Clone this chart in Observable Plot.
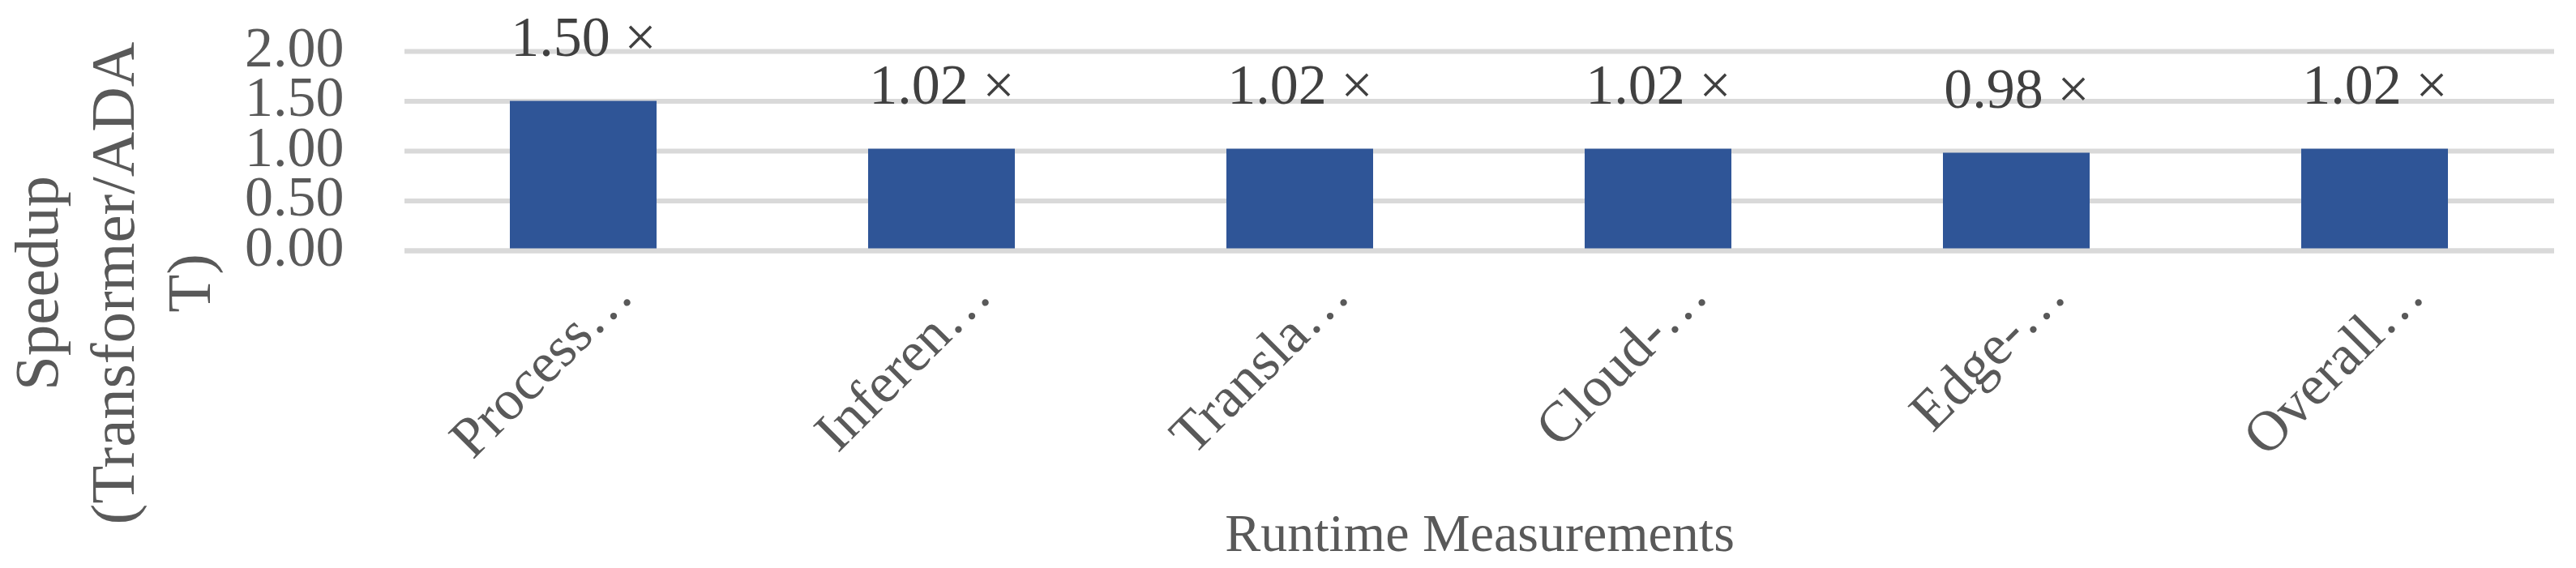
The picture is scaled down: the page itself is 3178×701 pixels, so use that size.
<!DOCTYPE html>
<html><head><meta charset="utf-8">
<script src="https://cdn.jsdelivr.net/npm/d3@7"></script>
<script src="https://cdn.jsdelivr.net/npm/@observablehq/plot@0.6"></script>
<style>html,body{margin:0;padding:0;background:#fff}</style>
</head><body><div id="chart"></div>
<script>
const categories = ["Process…", "Inferen…", "Transla…", "Cloud-…", "Edge-…", "Overall…"];
const speedups = [1.50, 1.02, 1.02, 1.02, 0.98, 1.02];
const yTicks = [0, 0.5, 1, 1.5, 2];
const yTitle = "Speedup\n(Transformer/ADA\nT)";
const xTitle = "Runtime Measurements";

const data = categories.map((c, i) => ({category: c, value: speedups[i]}));
const font = "'Liberation Serif', 'Times New Roman', serif";

const chart = Plot.plot({
  width: 3178, height: 701,
  marginLeft: 499, marginRight: 27, marginTop: 63, marginBottom: 392,
  style: {fontFamily: font, fontSize: "70px", background: "#fff"},
  x: {domain: categories, paddingInner: 0.59, paddingOuter: 0.295, axis: null, label: null},
  y: {domain: [0, 2], axis: null, label: null},
  marks: [
    Plot.ruleY(yTicks, {stroke: "#d9d9d9", strokeWidth: 6}),
    Plot.barY(data, {x: "category", y: "value", fill: "#2f5597"}),
    Plot.ruleY([0], {stroke: "#d9d9d9", strokeWidth: 6}),
    Plot.text(data, {x: "category", y: "value", text: d => d.value.toFixed(2) + " ×", dy: -56, lineAnchor: "bottom", fill: "#404040", fontSize: 70}),
    Plot.axisY({ticks: yTicks, tickFormat: d => d.toFixed(2), tickSize: 0, tickPadding: 75, fill: "#595959", fontSize: 70, dy: -4, label: null}),
    Plot.axisX({tickSize: 0, tickPadding: 0, tickRotate: -45, textAnchor: "end", lineAnchor: "bottom", dx: 64, dy: 58, fill: "#595959", fontSize: 70, label: null}),
    Plot.text([yTitle], {frameAnchor: "left", rotate: -90, text: d => d, textAnchor: "middle", dx: -365, dy: 163, lineHeight: 1.22, lineAnchor: "middle", fill: "#595959", fontSize: 77}),
    Plot.text([xTitle], {frameAnchor: "bottom", text: d => d, textAnchor: "middle", dy: 370, lineAnchor: "bottom", fill: "#595959", fontSize: 66})
  ]
});
document.getElementById("chart").appendChild(chart);
</script>
</body></html>
